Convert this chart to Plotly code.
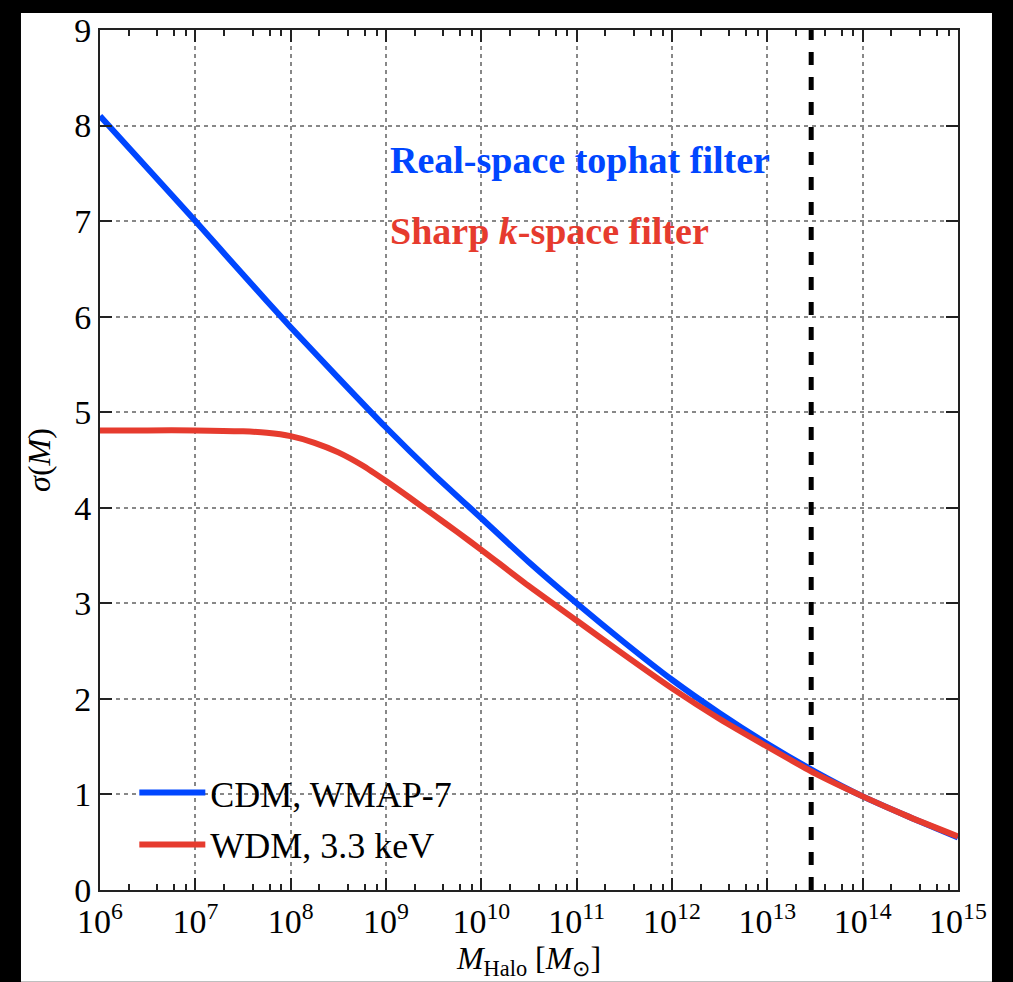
import plotly.graph_objects as go

# log10 of halo mass [M_sun]
cdm_logm = [6.0, 6.5, 7.0, 7.5, 8.0, 8.5, 9.0, 9.5, 10.0, 10.5, 11.0,
            11.5, 12.0, 12.5, 13.0, 13.5, 14.0, 14.5, 15.0]
# sigma(M), CDM with real-space tophat filter
cdm_sigma = [8.10, 7.55, 7.00, 6.44, 5.89, 5.36, 4.84, 4.35, 3.89, 3.43, 3.00,
             2.59, 2.20, 1.85, 1.53, 1.24, 0.98, 0.76, 0.55]

wdm_logm = [6.0, 6.5, 7.0, 7.5, 7.75, 8.0, 8.25, 8.5, 8.75, 9.0, 9.25, 9.5,
            9.75, 10.0, 10.5, 11.0, 11.5, 12.0, 12.5, 13.0, 13.5, 14.0, 14.5, 15.0]
# sigma(M), 3.3 keV WDM with sharp k-space filter
wdm_sigma = [4.81, 4.81, 4.81, 4.80, 4.785, 4.75, 4.68, 4.58, 4.445, 4.28, 4.105, 3.925,
             3.745, 3.56, 3.18, 2.82, 2.46, 2.11, 1.79, 1.50, 1.22, 0.98, 0.76, 0.56]

cut_logm = 13.46  # vertical reference mass

x_tick_exps = [6, 7, 8, 9, 10, 11, 12, 13, 14, 15]
y_ticks = [0, 1, 2, 3, 4, 5, 6, 7, 8, 9]

BLUE = "#0046ff"
RED = "#e63b2e"
FONT = "Liberation Serif"

fig = go.Figure()

fig.add_trace(go.Scatter(
    x=[10 ** v for v in cdm_logm], y=cdm_sigma, mode="lines",
    line=dict(color=BLUE, width=6, shape="spline", smoothing=0.6),
    name="CDM, WMAP-7", legendgroup="cdm",
))
fig.add_trace(go.Scatter(
    x=[10 ** v for v in wdm_logm], y=wdm_sigma, mode="lines",
    line=dict(color=RED, width=6, shape="spline", smoothing=0.6),
    name="WDM, 3.3 keV", legendgroup="wdm",
))
fig.add_trace(go.Scatter(
    x=[10 ** cut_logm, 10 ** cut_logm], y=[y_ticks[0], y_ticks[-1]], mode="lines",
    line=dict(color="black", width=5, dash="13px,12px"),
    showlegend=False, hoverinfo="skip",
))

minor_vals = [m * 10 ** e for e in x_tick_exps[:-1] for m in (2, 4, 6, 8)]

axis_common = dict(
    showline=True, linecolor="#222", linewidth=2, mirror="allticks",
    ticks="inside", tickcolor="#222", ticklen=12, tickwidth=2,
    showgrid=True, gridcolor="#888", gridwidth=1.5, griddash="4px,4px",
    zeroline=False,
    tickfont=dict(family=FONT, size=34, color="black"),
)

fig.update_xaxes(
    type="log", range=[x_tick_exps[0], x_tick_exps[-1]],
    tickvals=[10 ** e for e in x_tick_exps],
    ticktext=[f"10<sup>{e}</sup>" for e in x_tick_exps],
    minor=dict(tickvals=minor_vals, ticks="inside", ticklen=6, tickwidth=1.5,
               tickcolor="#222", showgrid=False),
    title=dict(text="<i>M</i><sub>Halo</sub> [<i>M</i><sub>⊙</sub>]",
               font=dict(family=FONT, size=32, color="black"), standoff=2),
    **axis_common,
)
fig.update_yaxes(
    range=[y_ticks[0], y_ticks[-1]], tickvals=y_ticks,
    ticktext=[str(v) for v in y_ticks],
    title=dict(text="<i>σ</i>(<i>M</i>)",
               font=dict(family=FONT, size=32, color="black"), standoff=14),
    **axis_common,
)

fig.add_annotation(
    x=9.02, y=7.64, xref="x", yref="y", xanchor="left", yanchor="middle",
    text="<b>Real-space tophat filter</b>", showarrow=False,
    font=dict(family=FONT, size=38, color=BLUE),
)
fig.add_annotation(
    x=9.02, y=6.9, xref="x", yref="y", xanchor="left", yanchor="middle",
    text="<b>Sharp <i>k</i>-space filter</b>", showarrow=False,
    font=dict(family=FONT, size=38, color=RED),
)

# white figure panel on a black page
fig.add_shape(type="rect", xref="paper", yref="paper",
              x0=-0.0921, x1=1.0396, y0=-0.1066, y1=1.0197,
              fillcolor="white", line=dict(width=0), layer="below")

fig.update_layout(
    width=1013, height=982,
    margin=dict(l=100, r=55, t=27, b=92),
    paper_bgcolor="black", plot_bgcolor="white",
    font=dict(family=FONT, color="black"),
    legend=dict(
        x=0.04, y=0.148, xanchor="left", yanchor="top",
        bgcolor="rgba(0,0,0,0)", borderwidth=0,
        font=dict(family=FONT, size=36, color="black"),
        itemwidth=66, tracegroupgap=2,
    ),
    showlegend=True,
)

fig.write_html("out.html")
